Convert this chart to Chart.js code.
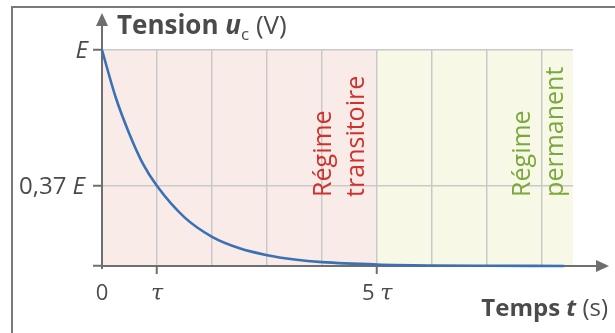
<!DOCTYPE html>
<html>
<head>
<meta charset="utf-8">
<script src="https://cdn.jsdelivr.net/npm/chart.js@4.4.1/dist/chart.umd.min.js"></script>
<style>
  html, body { margin: 0; padding: 0; background: #fff; }
  #c { display: block; }
</style>
</head>
<body>
<canvas id="c" width="615" height="333"></canvas>
<script>
// time in units of tau, tension as a fraction of E
const timeTau = [0, 0.25, 0.5, 0.75, 1, 1.5, 2, 2.5, 3, 3.5, 4, 5, 6, 7, 8.4];
const tensionRatio = [1, 0.78, 0.61, 0.47, 0.37, 0.225, 0.135, 0.082, 0.05, 0.03, 0.018, 0.007, 0.0025, 0.001, 0.0002];

const xGridTicks = [0, 1, 2, 3, 4, 5, 6, 7, 8];
const xLabelTicks = [0, 1, 5];
const xLabelTexts = ['0', 'τ', '5 τ'];
const yTicks = [0, 0.37, 1];
const yLabelTexts = ['', '0,37 ', 'E'];

const regimeEnd = 5;
const plotEnd = 8.56;

const FONT = '"Open Sans", "Noto Sans", sans-serif';
const TEXT = '#4b4b4b';
const AXIS = '#6e6e6e';
const GRID = '#c9c9c9';

// draw a row of text pieces with different fonts
function drawRuns(ctx, runs, x, y, align) {
    let total = 0;
    runs.forEach(r => { ctx.font = r.font; total += ctx.measureText(r.text).width; });
    let cx = align === 'right' ? x - total : (align === 'center' ? x - total / 2 : x);
    runs.forEach(r => {
        ctx.font = r.font;
        ctx.textAlign = 'left';
        ctx.fillText(r.text, cx, y + (r.dy || 0));
        cx += ctx.measureText(r.text).width;
    });
}

const decorPlugin = {
    id: 'decor',
    beforeDraw(chart) {
        const { ctx } = chart;
        const xs = chart.scales.x, ys = chart.scales.y;
        const top = ys.getPixelForValue(1), bot = ys.getPixelForValue(0);
        const x0 = xs.getPixelForValue(0), x5 = xs.getPixelForValue(regimeEnd), xe = xs.getPixelForValue(plotEnd);
        ctx.save();
        ctx.fillStyle = '#f9ece8';
        ctx.fillRect(x0, top, x5 - x0, bot - top);
        ctx.fillStyle = '#f8f8e7';
        ctx.fillRect(x5, top, xe - x5, bot - top);
        ctx.restore();
    },
    beforeDatasetsDraw(chart) {
        const { ctx } = chart;
        const xs = chart.scales.x, ys = chart.scales.y;
        const ox = xs.getPixelForValue(0), oy = ys.getPixelForValue(0);
        ctx.save();
        ctx.strokeStyle = AXIS;
        ctx.fillStyle = AXIS;
        ctx.lineWidth = 2;
        // x axis with arrow
        ctx.beginPath();
        ctx.moveTo(ox, oy);
        ctx.lineTo(600, oy);
        ctx.stroke();
        ctx.beginPath();
        ctx.moveTo(609, oy);
        ctx.lineTo(596, oy - 6);
        ctx.lineTo(596, oy + 6);
        ctx.closePath();
        ctx.fill();
        // y axis with arrow
        ctx.beginPath();
        ctx.moveTo(ox, oy + 3);
        ctx.lineTo(ox, 24);
        ctx.stroke();
        ctx.beginPath();
        ctx.moveTo(ox, 13);
        ctx.lineTo(ox - 6, 26);
        ctx.lineTo(ox + 6, 26);
        ctx.closePath();
        ctx.fill();
        ctx.restore();
    },
    afterDraw(chart) {
        const { ctx } = chart;
        const xs = chart.scales.x, ys = chart.scales.y;
        ctx.save();
        ctx.textBaseline = 'alphabetic';
        ctx.fillStyle = TEXT;

        // frame
        ctx.strokeStyle = '#7a7a7a';
        ctx.lineWidth = 2;
        ctx.beginPath();
        ctx.moveTo(12, 333);
        ctx.lineTo(12, 7);
        ctx.lineTo(615, 7);
        ctx.stroke();

        // y tick labels
        yTicks.forEach((v, i) => {
            if (!yLabelTexts[i]) return;
            const y = ys.getPixelForValue(v) + 8;
            if (i === 2) {
                drawRuns(ctx, [{ text: 'E', font: 'italic 24px ' + FONT }], 88, y, 'right');
            } else {
                drawRuns(ctx, [
                    { text: yLabelTexts[i], font: '24px ' + FONT },
                    { text: 'E', font: 'italic 24px ' + FONT }
                ], 85, y, 'right');
            }
        });

        // x tick labels
        xLabelTicks.forEach((v, i) => {
            const x = xs.getPixelForValue(v);
            const t = xLabelTexts[i];
            if (t === 'τ') {
                drawRuns(ctx, [{ text: 'τ', font: 'italic 22px "DejaVu Serif", serif' }], x, 300, 'center');
            } else if (t === '5 τ') {
                drawRuns(ctx, [
                    { text: '5 ', font: '22px ' + FONT },
                    { text: 'τ', font: 'italic 22px "DejaVu Serif", serif' }
                ], x, 300, 'center');
            } else {
                drawRuns(ctx, [{ text: t, font: '22px ' + FONT }], x, 300, 'center');
            }
        });

        // axis titles
        drawRuns(ctx, [
            { text: 'Tension ', font: 'bold 26px ' + FONT },
            { text: 'u', font: 'bold italic 26px ' + FONT },
            { text: 'c', font: '17px ' + FONT, dy: 6 },
            { text: ' (V)', font: '26px ' + FONT }
        ], 117, 34, 'left');
        drawRuns(ctx, [
            { text: 'Temps ', font: 'bold 24px ' + FONT },
            { text: 't', font: 'bold italic 24px ' + FONT },
            { text: ' (s)', font: '24px ' + FONT }
        ], 608, 316, 'right');

        // rotated regime labels
        const yb = ys.getPixelForValue(0.32);
        const x5 = xs.getPixelForValue(regimeEnd);
        function vtext(lines, xBase, color) {
            ctx.save();
            ctx.fillStyle = color;
            ctx.font = '25px ' + FONT;
            ctx.textAlign = 'left';
            lines.forEach((s, k) => {
                ctx.save();
                ctx.translate(xBase + k * 33, yb);
                ctx.rotate(-Math.PI / 2);
                ctx.fillText(s, 0, 0);
                ctx.restore();
            });
            ctx.restore();
        }
        vtext(['Régime', 'transitoire'], x5 - 46, '#d0312d');
        vtext(['Régime', 'permanent'], x5 + 153, '#7aa83c');

        ctx.restore();
    }
};

new Chart(document.getElementById('c'), {
    type: 'line',
    data: {
        datasets: [{
            data: timeTau.map((t, i) => ({ x: t, y: tensionRatio[i] })),
            borderColor: '#3c70b4',
            borderWidth: 2.6,
            pointRadius: 0,
            cubicInterpolationMode: 'monotone',
            fill: false,
            clip: false
        }]
    },
    options: {
        responsive: false,
        animation: false,
        layout: { padding: { top: 50, right: 42, left: 0, bottom: 0 } },
        plugins: { legend: { display: false }, tooltip: { enabled: false } },
        scales: {
            x: {
                type: 'linear',
                min: 0,
                max: plotEnd,
                afterBuildTicks: s => { s.ticks = xGridTicks.map(v => ({ value: v })); },
                afterFit: s => { s.height = 67; },
                border: { display: false },
                ticks: { display: false },
                grid: {
                    color: c => c.tick && c.tick.value === 0 ? 'rgba(0,0,0,0)' : GRID,
                    lineWidth: 1.5,
                    drawTicks: true,
                    tickLength: 8,
                    tickWidth: 2,
                    tickColor: c => c.tick && (c.tick.value === 1 || c.tick.value === 5) ? AXIS : 'rgba(0,0,0,0)'
                }
            },
            y: {
                type: 'linear',
                min: 0,
                max: 1,
                afterBuildTicks: s => { s.ticks = yTicks.map(v => ({ value: v })); },
                afterFit: s => { s.width = 102; },
                border: { display: false },
                ticks: { display: false },
                grid: {
                    color: c => c.tick && c.tick.value === 0 ? 'rgba(0,0,0,0)' : GRID,
                    lineWidth: 1.5,
                    drawTicks: true,
                    tickLength: 9,
                    tickWidth: 2,
                    tickColor: AXIS
                }
            }
        }
    },
    plugins: [decorPlugin]
});
</script>
</body>
</html>
